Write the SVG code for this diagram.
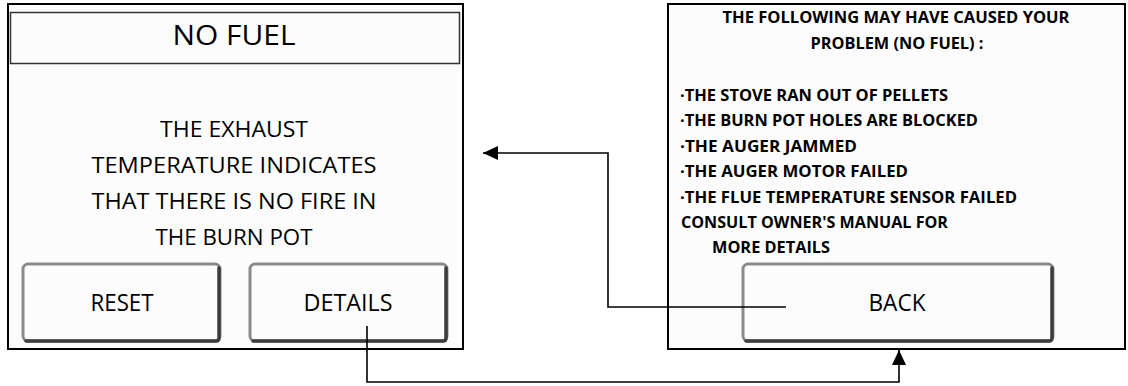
<svg xmlns="http://www.w3.org/2000/svg" width="1128" height="386" viewBox="0 0 1128 386">
<style>
.screen{fill:#fcfcfc;stroke:#000;stroke-width:2}
.title{fill:none;stroke:#333;stroke-width:1.5}
.btn{fill:#fcfcfc;stroke:#8a8a8a;stroke-width:3}
.btnsh{fill:none;stroke:#3c3c3c;stroke-width:3.5;stroke-linecap:round}
.t{font-family:"Open Sans","Noto Sans",sans-serif;fill:#000}
.tb{font-family:"Open Sans","Noto Sans",sans-serif;font-weight:bold;fill:#000;font-size:15.5px}
.conn{fill:none;stroke:#000;stroke-width:1.6}
</style>
<defs>
<marker id="ah" viewBox="0 0 15 14" refX="15" refY="7" markerWidth="15" markerHeight="14" markerUnits="userSpaceOnUse" orient="auto">
<path d="M0,0 L15,7 L0,14 Z" fill="#000"/>
</marker>
</defs>
<rect width="1128" height="386" fill="#fff"/>
<g id="screen-no-fuel">
<rect class="screen" x="8" y="4" width="455" height="345"/>
<rect class="title" x="10.5" y="12.5" width="449" height="51"/>
<text class="t" x="234" y="45" font-size="28" text-anchor="middle" textLength="123" lengthAdjust="spacingAndGlyphs">NO FUEL</text>
<text class="t" x="234" y="137" font-size="22" text-anchor="middle" textLength="148" lengthAdjust="spacingAndGlyphs">THE EXHAUST</text>
<text class="t" x="234" y="173" font-size="22" text-anchor="middle" textLength="285" lengthAdjust="spacingAndGlyphs">TEMPERATURE INDICATES</text>
<text class="t" x="234" y="209" font-size="22" text-anchor="middle" textLength="285" lengthAdjust="spacingAndGlyphs">THAT THERE IS NO FIRE IN</text>
<text class="t" x="234" y="245" font-size="22" text-anchor="middle" textLength="157" lengthAdjust="spacingAndGlyphs">THE BURN POT</text>
</g>
<g id="btn-reset">
<rect class="btn" x="23" y="264" width="197" height="77" rx="5"/>
<path class="btnsh" d="M219,268 V338 Q219,341 216,341 H26"/>
<text class="t" x="122" y="311" font-size="23" text-anchor="middle" textLength="63" lengthAdjust="spacingAndGlyphs">RESET</text>
</g>
<g id="btn-details">
<rect class="btn" x="250" y="264" width="197" height="77" rx="5"/>
<path class="btnsh" d="M446,268 V338 Q446,341 443,341 H253"/>
<text class="t" x="348" y="311" font-size="23" text-anchor="middle" textLength="89" lengthAdjust="spacingAndGlyphs">DETAILS</text>
</g>
<g id="screen-details">
<rect class="screen" x="668" y="4" width="457" height="345"/>
<text class="tb" x="896" y="23" text-anchor="middle" textLength="347" lengthAdjust="spacingAndGlyphs">THE FOLLOWING MAY HAVE CAUSED YOUR</text>
<text class="tb" x="897" y="49" text-anchor="middle" textLength="173" lengthAdjust="spacingAndGlyphs">PROBLEM (NO FUEL) :</text>
<text class="tb" x="680" y="101" textLength="268" lengthAdjust="spacingAndGlyphs">·THE STOVE RAN OUT OF PELLETS</text>
<text class="tb" x="680" y="126" textLength="298" lengthAdjust="spacingAndGlyphs">·THE BURN POT HOLES ARE BLOCKED</text>
<text class="tb" x="680" y="152" textLength="177" lengthAdjust="spacingAndGlyphs">·THE AUGER JAMMED</text>
<text class="tb" x="680" y="177" textLength="228" lengthAdjust="spacingAndGlyphs">·THE AUGER MOTOR FAILED</text>
<text class="tb" x="680" y="203" textLength="337" lengthAdjust="spacingAndGlyphs">·THE FLUE TEMPERATURE SENSOR FAILED</text>
<text class="tb" x="681" y="228" textLength="267" lengthAdjust="spacingAndGlyphs">CONSULT OWNER'S MANUAL FOR</text>
<text class="tb" x="712" y="253" textLength="118" lengthAdjust="spacingAndGlyphs">MORE DETAILS</text>
</g>
<g id="btn-back">
<rect class="btn" x="743" y="264" width="310" height="77" rx="5"/>
<path class="btnsh" d="M1052,268 V338 Q1052,341 1049,341 H746"/>
<text class="t" x="897" y="311" font-size="23" text-anchor="middle" textLength="57" lengthAdjust="spacingAndGlyphs">BACK</text>
</g>
<g id="connectors">
<path class="conn" d="M367,326 V382 H899 V350" marker-end="url(#ah)"/>
<path class="conn" d="M786,307 H608 V153 H483" marker-end="url(#ah)"/>
</g>
</svg>
